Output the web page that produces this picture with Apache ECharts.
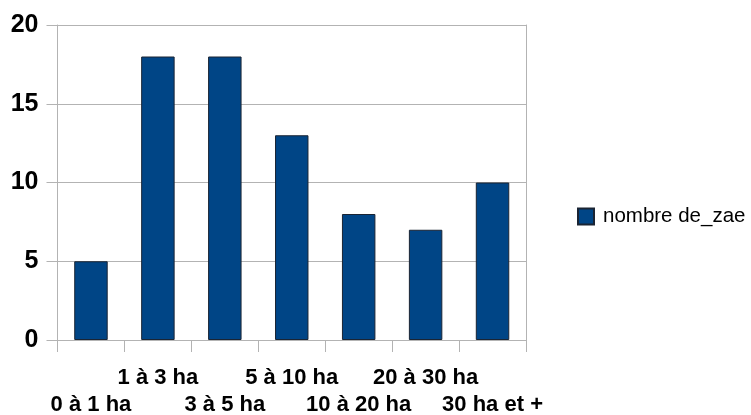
<!DOCTYPE html>
<html>
<head>
<meta charset="utf-8">
<script src="https://cdn.jsdelivr.net/npm/echarts@6/dist/echarts.min.js"></script>
<style>
  html, body { margin: 0; padding: 0; background: #fff; }
  #chart { width: 751px; height: 415px; }
</style>
</head>
<body>
<div id="chart"></div>
<script>
// Farm size classes and number of zones per class
const categories = ['0 à 1 ha', '1 à 3 ha', '3 à 5 ha', '5 à 10 ha', '10 à 20 ha', '20 à 30 ha', '30 ha et +'];
const values = [5, 18, 18, 13, 8, 7, 10];
const seriesName = 'nombre de_zae';
const yTicks = { min: 0, max: 20, interval: 5 };

const FONT = '"Liberation Sans", Arial, sans-serif';
const GRID_GRAY = '#b3b3b3';

const chart = echarts.init(document.getElementById('chart'), null, { renderer: 'canvas' });
chart.setOption({
  animation: false,
  backgroundColor: '#ffffff',
  grid: { left: 57.5, right: 225, top: 25, bottom: 75, containLabel: false, outerBoundsMode: 'none' },
  legend: {
    data: [seriesName],
    left: 577,
    top: 206,
    padding: 0,
    orient: 'vertical',
    icon: 'rect',
    itemWidth: 16,
    itemHeight: 16,
    textStyle: { fontFamily: FONT, fontSize: 20.5, color: '#000', padding: [6, 0, 0, 4] }
  },
  xAxis: {
    type: 'category',
    data: categories,
    boundaryGap: true,
    axisLine: { show: true, lineStyle: { color: GRID_GRAY, width: 1 } },
    axisTick: { show: true, length: 12, alignWithLabel: false, lineStyle: { color: GRID_GRAY } },
    axisLabel: {
      interval: 0,
      hideOverlap: false,
      margin: 24,
      fontFamily: FONT,
      fontSize: 22,
      fontWeight: 'bold',
      color: '#000',
      lineHeight: 27,
      verticalAlign: 'top',
      // alternate labels between two rows so the wide class names do not collide
      formatter: (v, i) => (i % 2 ? v : '\n' + v)
    }
  },
  yAxis: [
    {
      type: 'value',
      min: yTicks.min,
      max: yTicks.max,
      interval: yTicks.interval,
      axisLine: { show: true, lineStyle: { color: GRID_GRAY } },
      axisTick: { show: true, length: 11, lineStyle: { color: GRID_GRAY } },
      splitLine: { show: true, lineStyle: { color: GRID_GRAY, width: 1 } },
      axisLabel: { margin: 19, fontFamily: FONT, fontSize: 25, fontWeight: 'bold', color: '#000' }
    },
    {
      // right-hand frame line of the plot area
      type: 'value',
      position: 'right',
      min: yTicks.min,
      max: yTicks.max,
      interval: yTicks.interval,
      axisLine: { show: true, lineStyle: { color: GRID_GRAY } },
      axisTick: { show: false },
      splitLine: { show: false },
      axisLabel: { show: false }
    }
  ],
  series: [{
    name: seriesName,
    type: 'bar',
    yAxisIndex: 0,
    data: values,
    barCategoryGap: '50%',
    itemStyle: { color: '#004586', borderColor: '#1a2433', borderWidth: 1 }
  }]
});
</script>
</body>
</html>
